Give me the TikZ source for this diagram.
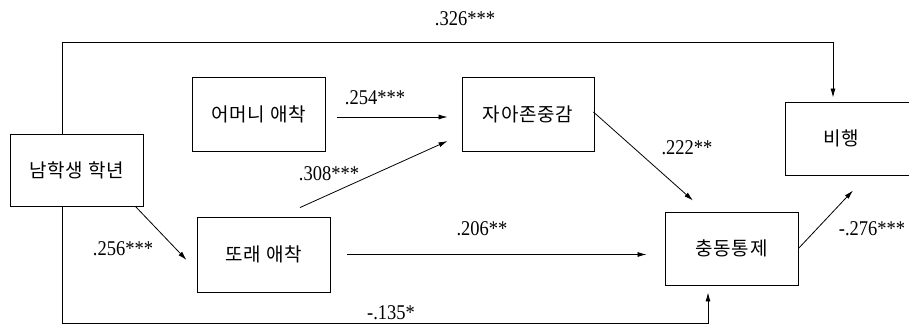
\documentclass[tikz,border=0pt]{standalone}
\usepackage{fontspec}
\setmainfont{Liberation Serif}
\newfontfamily\kor[LetterSpace=4]{Noto Sans CJK KR}
\newfontfamily\lblfont[FakeStretch=0.88]{Liberation Serif}
\usetikzlibrary{arrows.meta}
\begin{document}
\begin{tikzpicture}[x=1pt,y=-1pt,
  box/.style={draw, line width=0.9pt, inner sep=0pt, font=\kor\fontsize{19}{19}\selectfont},
  arr/.style={line width=0.8pt, -{Latex[length=9pt,width=5pt]}},
  lbl/.style={font=\lblfont\fontsize{21}{21}\selectfont, inner sep=0pt}]
\useasboundingbox (0,0) rectangle (909,326);
\node[box, minimum width=133pt, minimum height=72pt] (grade) at (76.5,170) {남학생 학년};
\node[box, minimum width=133pt, minimum height=74pt] (mother) at (258.5,114) {어머니 애착};
\node[box, minimum width=132pt, minimum height=74pt] (self) at (528,114) {자아존중감};
\node[box, minimum width=130pt, minimum height=73pt] (delin) at (850,138.5) {\hspace*{-17pt}비행};
\node[box, minimum width=133pt, minimum height=75pt] (peer) at (263.5,254.5) {또래 애착};
\node[box, minimum width=133pt, minimum height=73pt] (impulse) at (731.5,248.5) {충동통제};

\draw[arr] ([yshift=-3pt]mother.east) ++(12,0) -- ([xshift=-14pt,yshift=-3pt]self.west);
\draw[arr] ([xshift=36.5pt,yshift=9pt]peer.north) -- ([xshift=-14pt,yshift=-27pt]self.west);
\draw[arr] ([xshift=-8pt]grade.south east) -- ([xshift=-10pt,yshift=-5.5pt]peer.west);
\draw[arr] ([xshift=17pt]peer.east) -- ([xshift=-18pt]peer.east -| impulse.west);
\draw[arr] ([xshift=-1pt,yshift=2pt]self.east) -- ([xshift=-38.5pt,yshift=11pt]impulse.north);
\draw[arr] (impulse.east) -- ([xshift=3pt,yshift=-15pt]delin.south);
\draw[arr] ([xshift=-14.5pt]grade.north) -- ++(0,-91) -| ([xshift=-17pt,yshift=4pt]delin.north);
\draw[arr] ([xshift=-14.5pt]grade.south) -- ++(0,117) -| ([xshift=-23.5pt,yshift=-7pt]impulse.south);

\node[lbl] (l326) at (465,19) {.326***};
\node[lbl] (l254) at (375,98) {.254***};
\node[lbl] (l308) at (329,174) {.308***};
\node[lbl] (l256) at (123,249) {.256***};
\node[lbl] (l206) at (482,229) {.206**};
\node[lbl] (l222) at (687,148) {.222**};
\node[lbl] (l276) at (872,229) {-.276***};
\node[lbl] (l135) at (391,313) {-.135*};
\end{tikzpicture}
\end{document}
